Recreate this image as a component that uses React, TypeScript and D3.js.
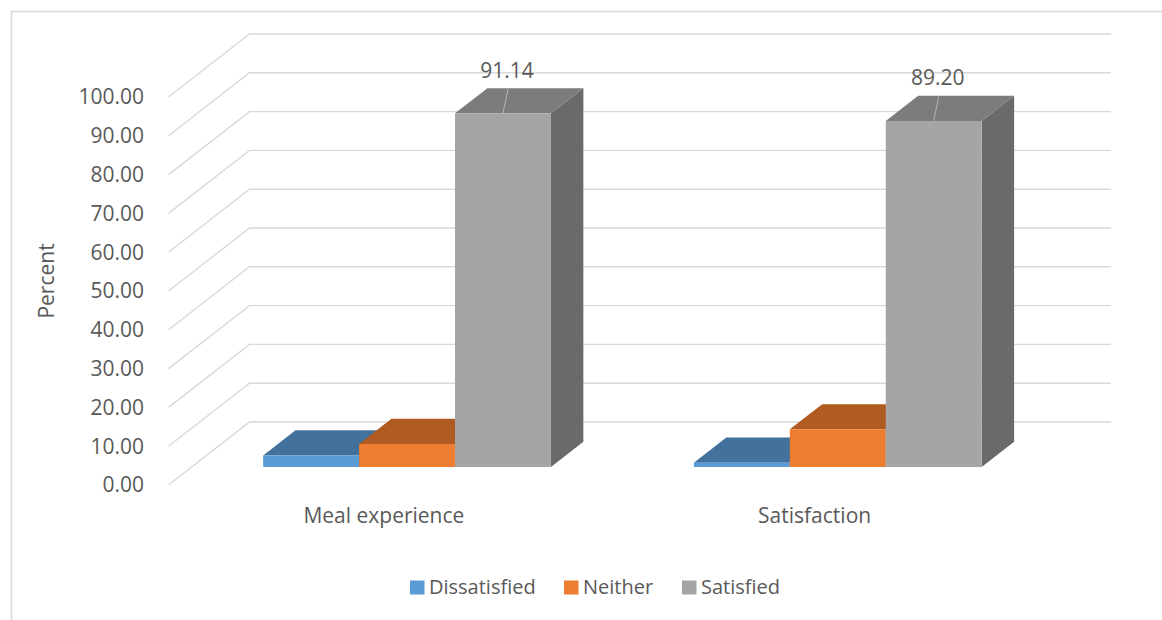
import React from "react";
import * as d3 from "d3";

// Survey responses (percent) per question
const categories = ["Meal experience", "Satisfaction"];
const seriesNames = ["Dissatisfied", "Neither", "Satisfied"];
const dissatisfied = [2.95, 1.1];
const neither = [5.91, 9.7];
const satisfied = [91.14, 89.2];
const yTicks = [0, 10, 20, 30, 40, 50, 60, 70, 80, 90, 100];

const seriesValues = [dissatisfied, neither, satisfied];
const frontColors = ["#5b9bd5", "#ed7d31", "#a5a5a5"];
const topColors = ["#42719c", "#b05b21", "#7c7c7c"];
const sideColors = ["#3e6a92", "#9e511d", "#6a6a6a"];

const W = 1162;
const H = 620;
const DX = 81; // full depth offset of the 3D wall
const DY = -63;
const Z0 = 0.286; // bar depth start
const Z1 = 0.686; // bar depth end
const FONT = "'Open Sans', sans-serif";
const TEXT = "#595959";
const GRID = "#d9d9d9";

export default function App() {
  const x0 = d3.scaleBand<string>().domain(categories).range([168.5, 1030]).padding(0);
  const x1 = d3
    .scaleBand<string>()
    .domain(seriesNames)
    .range([0, x0.bandwidth()])
    .paddingInner(0)
    .paddingOuter(0.745);
  const y = d3.scaleLinear().domain([0, 100]).range([485, 97]);
  const fmt = d3.format(".2f");

  const proj = (x: number, v: number, z: number): [number, number] => [x + z * DX, y(v) + z * DY];
  const pts = (arr: [number, number][]) => arr.map((p) => p.join(",")).join(" ");

  const [xLeft, xRight] = x0.range();

  return (
    <svg
      width={W}
      height={H}
      style={{ position: "absolute", left: 0, top: 0, background: "#fff" }}
      fontFamily={FONT}
    >
      {/* chart frame */}
      <path d={`M11.5,${H + 5} V11.5 H${W + 5}`} fill="none" stroke={GRID} strokeWidth={1.5} />

      {/* gridlines: side wall diagonals and back wall */}
      {yTicks.map((t) => {
        const a = proj(xLeft, t, 0);
        const b = proj(xLeft, t, 1);
        const c = proj(xRight, t, 1);
        return (
          <polyline
            key={t}
            points={pts([a, b, c])}
            fill="none"
            stroke={GRID}
            strokeWidth={1.4}
          />
        );
      })}

      {/* y tick labels */}
      {yTicks.map((t) => (
        <text
          key={"l" + t}
          x={144}
          y={y(t)}
          dy="0.35em"
          textAnchor="end"
          fontSize={21}
          fill={TEXT}
        >
          {fmt(t)}
        </text>
      ))}

      <text
        transform="translate(54,281) rotate(-90)"
        textAnchor="middle"
        fontSize={21}
        fill={TEXT}
      >
        Percent
      </text>

      {/* bars */}
      {categories.map((cat, ci) => (
        <g key={cat}>
          {seriesNames.map((s, si) => {
            const v = seriesValues[si][ci];
            const xl = (x0(cat) as number) + (x1(s) as number);
            const xr = xl + x1.bandwidth();
            const front = [proj(xl, v, Z0), proj(xr, v, Z0), proj(xr, 0, Z0), proj(xl, 0, Z0)];
            const top = [proj(xl, v, Z0), proj(xr, v, Z0), proj(xr, v, Z1), proj(xl, v, Z1)];
            const side = [proj(xr, 0, Z0), proj(xr, v, Z0), proj(xr, v, Z1), proj(xr, 0, Z1)];
            return (
              <g key={s}>
                <polygon points={pts(side)} fill={sideColors[si]} />
                <polygon points={pts(top)} fill={topColors[si]} />
                <polygon points={pts(front)} fill={frontColors[si]} />
              </g>
            );
          })}
          <text
            x={(x0(cat) as number) + x0.bandwidth() / 2}
            y={523}
            textAnchor="middle"
            fontSize={21}
            fill={TEXT}
          >
            {cat}
          </text>
        </g>
      ))}

      {/* data labels for Satisfied */}
      {categories.map((cat) => {
        const ci = categories.indexOf(cat);
        const v = satisfied[ci];
        const xl = (x0(cat) as number) + (x1("Satisfied") as number);
        const cx = xl + x1.bandwidth() / 2;
        const [fx, fy] = proj(cx, v, Z0);
        const [, by] = proj(cx, v, Z1);
        return (
          <g key={"d" + cat}>
            <line x1={fx} y1={fy} x2={fx + 5} y2={by + 1} stroke="#b4b4b4" strokeWidth={1} />
            <text x={fx + 4} y={by - 18} dy="0.35em" textAnchor="middle" fontSize={21} fill={TEXT}>
              {fmt(v)}
            </text>
          </g>
        );
      })}

      {/* legend */}
      {(() => {
        const starts = [410, 564, 682];
        return seriesNames.map((s, i) => (
          <g key={"lg" + s}>
            <rect x={starts[i]} y={580.5} width={14.5} height={14} fill={frontColors[i]} />
            <text x={starts[i] + 19} y={594} fontSize={20} fill={TEXT}>
              {s}
            </text>
          </g>
        ));
      })()}
    </svg>
  );
}
